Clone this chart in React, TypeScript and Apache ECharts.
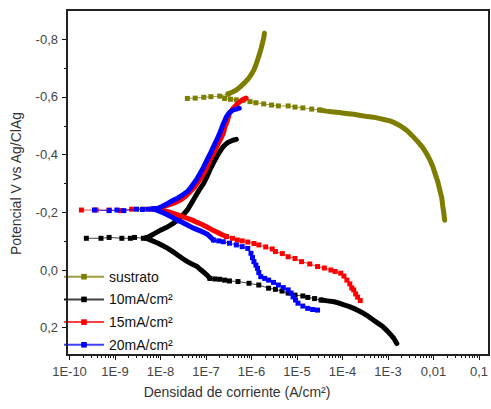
import React, { useEffect, useRef } from 'react';
import * as echarts from 'echarts';

// x values are log10 of current density (A/cm2); y values are potential (V vs Ag/ClAg)
const xTickLabels = ['1E-10', '1E-9', '1E-8', '1E-7', '1E-6', '1E-5', '1E-4', '1E-3', '0,01', '0,1'];
const seriesNames = ['sustrato', '10mA/cm²', '15mA/cm²', '20mA/cm²'];
const seriesColors = ['#7d7d00', '#000000', '#ff0000', '#0000ff'];

// sustrato
const sustratoSparseLeft: number[][] = [
  [-7.409, -0.595], [-7.237, -0.596], [-7.049, -0.599], [-6.892, -0.601], [-6.699, -0.603], [-6.512, -0.61],
];
const sustratoSparseMid: number[][] = [
  [-6.591, -0.595], [-6.462, -0.592], [-6.333, -0.59], [-6.183, -0.588], [-6.032, -0.584], [-5.903, -0.58],
  [-5.731, -0.576], [-5.559, -0.572], [-5.409, -0.569], [-5.194, -0.569], [-5.043, -0.565], [-4.871, -0.562],
  [-4.677, -0.558], [-4.505, -0.555],
];
const sustratoAnodic: number[][] = [
  [-6.512, -0.61], [-6.419, -0.617], [-6.333, -0.624], [-6.247, -0.635], [-6.161, -0.648], [-6.075, -0.662],
  [-6.011, -0.676], [-5.946, -0.694], [-5.903, -0.711], [-5.86, -0.732], [-5.817, -0.752], [-5.785, -0.77],
  [-5.759, -0.787], [-5.731, -0.804], [-5.716, -0.821],
];
const sustratoCathodic: number[][] = [
  [-4.505, -0.555], [-4.355, -0.551], [-4.247, -0.549], [-4.075, -0.546], [-3.925, -0.543], [-3.753, -0.54],
  [-3.602, -0.536], [-3.452, -0.532], [-3.323, -0.53], [-3.172, -0.525], [-3.043, -0.52], [-2.957, -0.517],
  [-2.849, -0.51], [-2.742, -0.501], [-2.656, -0.492], [-2.57, -0.482], [-2.462, -0.465], [-2.355, -0.447],
  [-2.247, -0.427], [-2.161, -0.406], [-2.075, -0.381], [-2.011, -0.357], [-1.968, -0.336], [-1.903, -0.305],
  [-1.86, -0.277], [-1.817, -0.25], [-1.796, -0.222], [-1.774, -0.198], [-1.753, -0.173],
];

// 10 mA/cm2
const black10SparseLeft: number[][] = [
  [-9.63, -0.11], [-9.308, -0.11], [-9.129, -0.113], [-8.849, -0.11], [-8.662, -0.11], [-8.57, -0.113],
  [-8.376, -0.11], [-8.312, -0.111],
];
const black10Upper: number[][] = [
  [-8.312, -0.111], [-8.226, -0.118], [-8.125, -0.127], [-7.989, -0.139], [-7.839, -0.15], [-7.731, -0.161],
  [-7.624, -0.173], [-7.516, -0.189], [-7.409, -0.208], [-7.323, -0.231], [-7.237, -0.254], [-7.151, -0.277],
  [-7.049, -0.301], [-6.978, -0.324], [-6.914, -0.347], [-6.839, -0.371], [-6.763, -0.393], [-6.688, -0.413],
  [-6.619, -0.428], [-6.548, -0.439], [-6.484, -0.445], [-6.409, -0.45], [-6.333, -0.453],
];
const black10Lower1: number[][] = [
  [-8.312, -0.111], [-8.269, -0.107], [-8.161, -0.1], [-8.054, -0.093], [-7.946, -0.084], [-7.839, -0.075],
  [-7.731, -0.064], [-7.624, -0.052], [-7.516, -0.04], [-7.409, -0.029], [-7.301, -0.02], [-7.194, -0.012],
  [-7.108, 0.0], [-7.022, 0.011], [-6.957, 0.021], [-6.914, 0.029],
];
const black10SparseMid: number[][] = [
  [-6.914, 0.029], [-6.806, 0.031], [-6.699, 0.032], [-6.591, 0.035], [-6.484, 0.038], [-6.297, 0.04],
  [-6.054, 0.046], [-5.839, 0.052], [-5.624, 0.063], [-5.473, 0.067], [-5.329, 0.073], [-5.194, 0.08],
  [-5.043, 0.087], [-4.871, 0.09], [-4.763, 0.095], [-4.613, 0.099], [-4.469, 0.104],
];
const black10Lower2: number[][] = [
  [-4.469, 0.104], [-4.333, 0.107], [-4.183, 0.11], [-4.075, 0.115], [-3.968, 0.121], [-3.86, 0.126],
  [-3.753, 0.133], [-3.645, 0.141], [-3.538, 0.15], [-3.43, 0.161], [-3.323, 0.173], [-3.215, 0.185],
  [-3.108, 0.197], [-3.022, 0.21], [-2.935, 0.225], [-2.871, 0.237], [-2.828, 0.249], [-2.806, 0.255],
];

// 15 mA/cm2
const red15SparseLeft: number[][] = [
  [-9.738, -0.208], [-9.415, -0.208], [-9.129, -0.208], [-8.877, -0.206], [-8.634, -0.211], [-8.376, -0.211],
  [-8.204, -0.211], [-8.054, -0.212],
];
const red15Upper: number[][] = [
  [-8.054, -0.212], [-7.946, -0.219], [-7.839, -0.225], [-7.71, -0.232], [-7.559, -0.243], [-7.452, -0.255],
  [-7.344, -0.272], [-7.258, -0.286], [-7.194, -0.301], [-7.118, -0.317], [-7.049, -0.335], [-6.978, -0.357],
  [-6.914, -0.381], [-6.839, -0.404], [-6.763, -0.428], [-6.688, -0.451], [-6.619, -0.474], [-6.591, -0.492],
  [-6.527, -0.52], [-6.484, -0.543], [-6.398, -0.562], [-6.297, -0.578], [-6.204, -0.59], [-6.118, -0.596],
];
const red15Lower: number[][] = [
  [-8.054, -0.212], [-7.946, -0.206], [-7.839, -0.202], [-7.731, -0.197], [-7.624, -0.191], [-7.516, -0.185],
  [-7.409, -0.179], [-7.301, -0.173], [-7.194, -0.165], [-7.086, -0.158], [-6.978, -0.149], [-6.871, -0.14],
  [-6.763, -0.132], [-6.656, -0.123], [-6.548, -0.116],
];
const red15SparseLower: number[][] = [
  [-6.548, -0.116], [-6.419, -0.11], [-6.312, -0.104], [-6.204, -0.101], [-6.082, -0.097], [-5.946, -0.092],
  [-5.839, -0.087], [-5.688, -0.08], [-5.544, -0.073], [-5.473, -0.064], [-5.323, -0.057], [-5.194, -0.046],
  [-5.043, -0.04], [-4.899, -0.029], [-4.72, -0.021], [-4.548, -0.012], [-4.398, -0.007], [-4.254, 0.0],
  [-4.161, 0.005], [-4.039, 0.011], [-3.968, 0.021], [-3.903, 0.035], [-3.839, 0.048], [-3.796, 0.062],
  [-3.753, 0.069], [-3.71, 0.083], [-3.667, 0.094], [-3.609, 0.106],
];

// 20 mA/cm2
const blue20SparseLeft: number[][] = [
  [-9.452, -0.208], [-9.129, -0.206], [-8.957, -0.208], [-8.806, -0.206], [-8.527, -0.211], [-8.398, -0.21],
  [-8.269, -0.211], [-8.161, -0.212],
];
const blue20Upper: number[][] = [
  [-8.161, -0.212], [-8.054, -0.214], [-7.946, -0.222], [-7.839, -0.231], [-7.731, -0.241], [-7.624, -0.249],
  [-7.516, -0.26], [-7.409, -0.272], [-7.333, -0.286], [-7.265, -0.301], [-7.194, -0.317], [-7.129, -0.335],
  [-7.054, -0.357], [-6.978, -0.381], [-6.903, -0.404], [-6.834, -0.428], [-6.763, -0.451], [-6.699, -0.474],
  [-6.634, -0.501], [-6.548, -0.532], [-6.484, -0.546], [-6.404, -0.555], [-6.333, -0.558], [-6.269, -0.561],
];
const blue20Lower: number[][] = [
  [-8.161, -0.212], [-8.054, -0.206], [-7.946, -0.199], [-7.839, -0.191], [-7.731, -0.182], [-7.624, -0.172],
  [-7.516, -0.165], [-7.409, -0.156], [-7.301, -0.147], [-7.194, -0.14], [-7.086, -0.133], [-6.978, -0.125],
  [-6.914, -0.116], [-6.834, -0.104],
];
const blue20LowerTail: number[][] = [
  [-6.834, -0.104], [-6.72, -0.101], [-6.619, -0.098], [-6.484, -0.093], [-6.333, -0.087], [-6.204, -0.081],
  [-6.082, -0.075], [-6.011, -0.058], [-5.978, -0.043], [-5.946, -0.029], [-5.903, -0.017], [-5.867, -0.006],
  [-5.839, 0.009], [-5.796, 0.023], [-5.71, 0.029], [-5.624, 0.035], [-5.516, 0.043], [-5.409, 0.052],
  [-5.301, 0.061], [-5.194, 0.069], [-5.129, 0.08], [-5.086, 0.093], [-5.032, 0.104], [-4.978, 0.115],
  [-4.871, 0.125], [-4.763, 0.133], [-4.656, 0.137], [-4.548, 0.139],
];

const FONT = '"Liberation Sans", Arial, sans-serif';

function seg(name: string, color: string, pts: number[][], dense: boolean, z: number) {
  return {
    type: 'line',
    name,
    data: pts.map(([l, v]) => [Math.pow(10, l), v]),
    clip: false,
    silent: true,
    z,
    symbol: dense ? 'none' : 'rect',
    symbolSize: 5,
    showSymbol: !dense,
    itemStyle: { color },
    lineStyle: dense
      ? { width: 5, color, cap: 'round', join: 'round' }
      : { width: 1, color, opacity: 0.75 },
    emphasis: { disabled: true },
  };
}

export default function App() {
  const ref = useRef<HTMLDivElement>(null);
  useEffect(() => {
    if (!ref.current) return;
    const chart = echarts.init(ref.current, undefined, { renderer: 'svg' });
    const [cS, c10, c15, c20] = seriesColors;
    const [nS, n10, n15, n20] = seriesNames;
    const series = [
      seg(nS, cS, sustratoSparseLeft, false, 2),
      seg('sustrato b', cS, sustratoSparseMid, false, 2),
      seg('sustrato c', cS, sustratoAnodic, true, 2),
      seg('sustrato d', cS, sustratoCathodic, true, 2),
      seg(n10, c10, black10SparseLeft, false, 3),
      seg('10 b', c10, black10Upper, true, 3),
      seg('10 c', c10, black10Lower1, true, 3),
      seg('10 d', c10, black10SparseMid, false, 3),
      seg('10 e', c10, black10Lower2, true, 3),
      seg(n15, c15, red15SparseLeft, false, 4),
      seg('15 b', c15, red15Upper, true, 4),
      seg('15 c', c15, red15Lower, true, 4),
      seg('15 d', c15, red15SparseLower, false, 4),
      seg(n20, c20, blue20SparseLeft, false, 5),
      seg('20 b', c20, blue20Upper, true, 5),
      seg('20 c', c20, blue20Lower, true, 5),
      seg('20 d', c20, blue20LowerTail, false, 5),
    ];
    chart.setOption({
      animation: false,
      backgroundColor: '#ffffff',
      grid: { left: 69.5, right: 3, top: 39.3, bottom: 81.3, containLabel: false },
      xAxis: {
        type: 'log',
        logBase: 10,
        min: 1e-10,
        max: 0.1,
        offset: 27.3,
        axisLine: { show: false, onZero: false },
        axisTick: { show: true, length: 5, lineStyle: { color: '#111', width: 1 } },
        minorTick: { show: true, splitNumber: 9, length: 3, lineStyle: { color: '#111', width: 1 } },
        splitLine: { show: false },
        minorSplitLine: { show: false },
        axisLabel: {
          margin: 10,
          fontSize: 13,
          fontFamily: FONT,
          color: '#444',
          formatter: (v: number) => xTickLabels[Math.round(Math.log10(v)) + 10] ?? '',
        },
      },
      yAxis: {
        type: 'value',
        inverse: true,
        min: -0.8,
        max: 0.2,
        interval: 0.2,
        offset: 2.5,
        name: 'Potencial V vs Ag/ClAg',
        nameLocation: 'middle',
        nameGap: 44,
        nameTextStyle: { fontSize: 14, fontFamily: FONT, color: '#333' },
        axisLine: { show: false, onZero: false },
        axisTick: { show: true, length: 5, lineStyle: { color: '#111', width: 1 } },
        minorTick: { show: true, splitNumber: 2, length: 3, lineStyle: { color: '#111', width: 1 } },
        splitLine: { show: false },
        axisLabel: {
          margin: 9,
          fontSize: 13,
          fontFamily: FONT,
          color: '#444',
          formatter: (v: number) => (Math.abs(v) < 1e-9 ? '0,0' : v.toFixed(1).replace('.', ',')),
        },
      },
      legend: {
        data: seriesNames,
        orient: 'vertical',
        left: 63,
        top: 268.7,
        padding: 0,
        itemWidth: 40,
        itemHeight: 7,
        itemGap: 6.7,
        selectedMode: false,
        textStyle: { fontSize: 14, fontFamily: FONT, color: '#111', lineHeight: 16 },
      },
      graphic: [
        {
          type: 'rect',
          silent: true,
          z: 100,
          shape: { x: 67, y: 10, width: 422, height: 345 },
          style: { fill: 'none', stroke: '#222', lineWidth: 2 },
        },
        {
          type: 'text',
          silent: true,
          x: 237,
          y: 392,
          style: {
            text: 'Densidad de corriente (A/cm²)',
            fontSize: 14,
            fontFamily: FONT,
            fill: '#333',
            align: 'center',
            verticalAlign: 'middle',
          },
        },
      ],
      series,
    });
    return () => chart.dispose();
  }, []);
  return (
    <div
      ref={ref}
      style={{ position: 'fixed', left: 0, top: 0, width: 491, height: 409, background: '#fff' }}
    />
  );
}
